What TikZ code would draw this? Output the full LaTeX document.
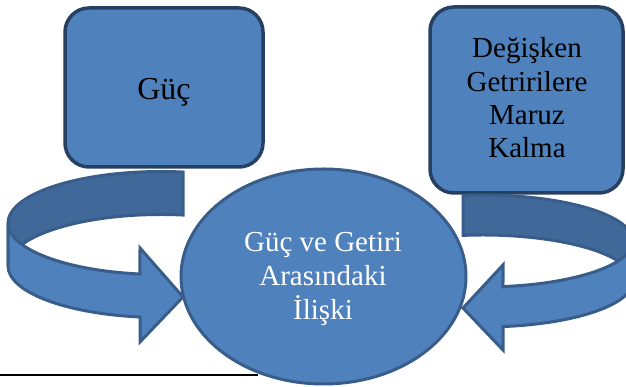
\documentclass[tikz,border=0pt]{standalone}
\usepackage{fontspec}
\setmainfont{Liberation Serif}
\usetikzlibrary{shapes.geometric}
\definecolor{fillblue}{RGB}{79,129,189}
\definecolor{backblue}{RGB}{64,104,153}
\definecolor{edgeblue}{RGB}{56,93,138}
\definecolor{boxedge}{RGB}{37,64,97}
\tikzset{
  roundbox/.style={draw=boxedge, line width=3.5pt, fill=fillblue, rounded corners=24pt, inner sep=0pt},
  centreoval/.style={ellipse, draw=edgeblue, line width=3pt, fill=fillblue, inner sep=0pt},
  backband/.style={draw=edgeblue, line width=3pt, fill=backblue},
  frontband/.style={draw=edgeblue, line width=3pt, fill=fillblue},
  blacktext/.style={text=black, align=center},
  whitetext/.style={text=white, align=center},
}
\begin{document}
\begin{tikzpicture}[x=1pt,y=1pt]
\useasboundingbox (0,0) rectangle (626,387);
\clip (0,0) rectangle (626,387);
% boxes
\node[roundbox, minimum width=198pt, minimum height=159pt] (guc) at (164,299.5) {};
\node[roundbox, minimum width=193pt, minimum height=186pt] (deg) at (526.5,287) {};
% centre ellipse
\node[centreoval, minimum width=285pt, minimum height=215pt] (rel) at (323.5,110.5) {};
% left circular arrow
\draw[backband] (183.1,214.96) arc[start angle=81.7,end angle=180,x radius=153,y radius=51.5]
  -- ++(0,-43) arc[start angle=180,end angle=81.7,x radius=153,y radius=51.5] -- cycle;
\draw[frontband] (8,164) arc[start angle=180,end angle=262.1,x radius=153,y radius=51.5]
  -- (140,139) -- (183,90) -- (140,45) -- (140,70)
  arc[start angle=262.1,end angle=180,x radius=153,y radius=51.5] -- cycle;
% right circular arrow
\draw[backband] (463,191.59) arc[start angle=97.66,end angle=0,x radius=150,y radius=46]
  -- ++(0,-40) arc[start angle=0,end angle=97.66,x radius=150,y radius=46] -- cycle;
\draw[frontband] (633,146) arc[start angle=360,end angle=277.66,x radius=150,y radius=46]
  -- (503,122) -- (463,79) -- (503,37) -- (503,60.41)
  arc[start angle=277.66,end angle=360,x radius=150,y radius=46] -- cycle;
% texts
\node[blacktext, font=\fontsize{32}{38}\selectfont, anchor=base] (gucT) at (164,287) {Güç};
\node[blacktext, font=\fontsize{29}{33.3}\selectfont] (degT) at (527,289) {Değişken\\Getririlere\\Maruz\\Kalma};
\node[whitetext, font=\fontsize{29}{34}\selectfont] (relT) at (323,108) {Güç ve Getiri\\Arasındaki\\İlişki};
% bottom rule
\coordinate (ruleL) at (0,12);
\coordinate (ruleR) at (258,12);
\draw[line width=2pt, black] (ruleL) -- (ruleR);
\end{tikzpicture}
\end{document}
